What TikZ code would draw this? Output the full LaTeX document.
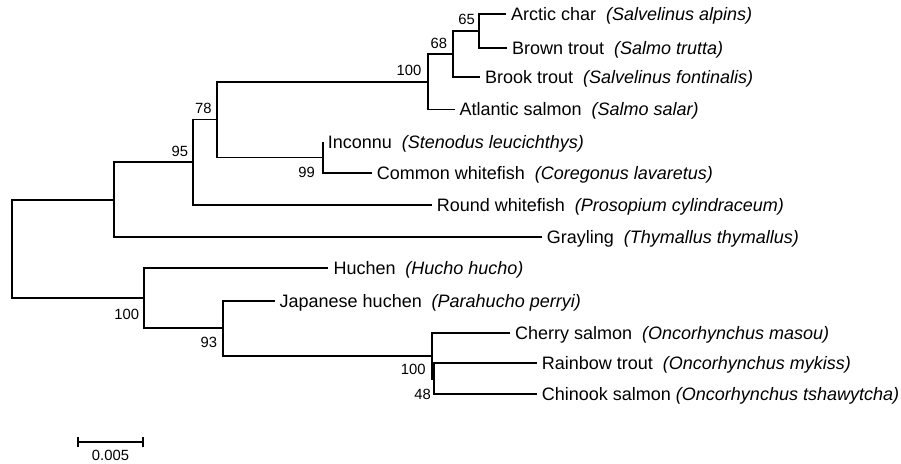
\documentclass[tikz,border=0pt]{standalone}
\usepackage{fontspec}
\setmainfont{Liberation Sans}
\begin{document}
\begin{tikzpicture}[x=1pt,y=-1pt,
  br/.style={line width=1.7pt},
  leaf/.style={anchor=west, inner xsep=5pt, inner ysep=0pt, text height=12.9pt, text depth=0pt, font=\fontsize{18}{21}\selectfont},
  boot/.style={anchor=east, inner sep=0pt, text height=10.6pt, text depth=0pt, font=\fontsize{14.8}{17}\selectfont}]
\useasboundingbox (0,0) rectangle (901,463);
\newcommand{\gp}{\hspace{0.55em}}
% internal nodes
\coordinate (root) at (11.7,249);
\coordinate (nA) at (114.3,199.7);
\coordinate (n95) at (192.7,162.2);
\coordinate (n78) at (216.7,119.5);
\coordinate (n100a) at (427.7,81.7);
\coordinate (n68) at (453.3,53.9);
\coordinate (n65) at (479,31);
\coordinate (n99) at (322.7,157.4);
\coordinate (nB) at (144.3,298.3);
\coordinate (n93) at (223.3,328.2);
\coordinate (n100c) at (431.7,355.7);
\coordinate (n48) at (434,378.7);
% leaves
\node[leaf] (arctic) at (506,14.3) {Arctic char\gp\textit{(Salvelinus alpins)}};
\node[leaf] (brown) at (507,47.7) {Brown trout\gp\textit{(Salmo trutta)}};
\node[leaf] (brook) at (480,76.7) {Brook trout\gp\textit{(Salvelinus fontinalis)}};
\node[leaf] (atlantic) at (454.5,109.5) {Atlantic salmon\gp\textit{(Salmo salar)}};
\node[leaf] (inconnu) at (322.7,141.7) {Inconnu\gp\textit{(Stenodus leucichthys)}};
\node[leaf] (common) at (371.7,173) {Common whitefish\gp\textit{(Coregonus lavaretus)}};
\node[leaf] (round) at (431.7,205) {Round whitefish\gp\textit{(Prosopium cylindraceum)}};
\node[leaf] (grayling) at (541.7,236.7) {Grayling\gp\textit{(Thymallus thymallus)}};
\node[leaf] (huchen) at (328.3,268.3) {Huchen\gp\textit{(Hucho hucho)}};
\node[leaf] (japanese) at (274.5,300.7) {Japanese huchen\gp\textit{(Parahucho perryi)}};
\node[leaf] (cherry) at (510,332.7) {Cherry salmon\gp\textit{(Oncorhynchus masou)}};
\node[leaf] (rainbow) at (536.7,363) {Rainbow trout\gp\textit{(Oncorhynchus mykiss)}};
\node[leaf] (chinook) at (536.7,394.3) {Chinook salmon \textit{(Oncorhynchus tshawytcha)}};
% branches
\draw[br] (root) |- (nA);
\draw[br] (root) |- (nB);
\draw[br] (nA) |- (n95);
\draw[br] (nA) |- (grayling.west);
\draw[br] (n95) |- (n78);
\draw[br] (n95) |- (round.west);
\draw[br] (n78) |- (n100a);
\draw[br] (n78) |- (n99);
\draw[br] (n100a) |- (n68);
\draw[br] (n100a) |- (atlantic.west);
\draw[br] (n68) |- (n65);
\draw[br] (n68) |- (brook.west);
\draw[br] (n65) |- (arctic.west);
\draw[br] (n65) |- (brown.west);
\draw[br] (n99) |- (inconnu.west);
\draw[br] (n99) |- (common.west);
\draw[br] (nB) |- (huchen.west);
\draw[br] (nB) |- (n93);
\draw[br] (n93) |- (japanese.west);
\draw[br] (n93) |- (n100c);
\draw[br] (n100c) |- (cherry.west);
\draw[br] (n100c) |- (n48);
\draw[br] (n48) |- (rainbow.west);
\draw[br] (n48) |- (chinook.west);
% bootstrap values
\node[boot] (b65) at (475,18.7) {65};
\node[boot] (b68) at (447.3,42.8) {68};
\node[boot] (b100a) at (421.5,70.5) {100};
\node[boot] (b78) at (211.7,108.5) {78};
\node[boot] (b95) at (188.3,150.8) {95};
\node[boot] (b99) at (315,172.5) {99};
\node[boot] (b100b) at (139.3,314.2) {100};
\node[boot] (b93) at (217.3,342.5) {93};
\node[boot] (b100c) at (425.7,369.2) {100};
\node[boot] (b48) at (431,394.2) {48};
% scale bar
\coordinate (s1) at (77.7,442.3);
\coordinate (s2) at (143.3,442.3);
\draw[br] (s1) -- (s2);
\draw[br] ([yshift=-5pt]s1) -- ([yshift=5pt]s1);
\draw[br] ([yshift=-5pt]s2) -- ([yshift=5pt]s2);
\node[boot, anchor=center] (sl) at (110.5,455.5) {0.005};
\end{tikzpicture}
\end{document}
